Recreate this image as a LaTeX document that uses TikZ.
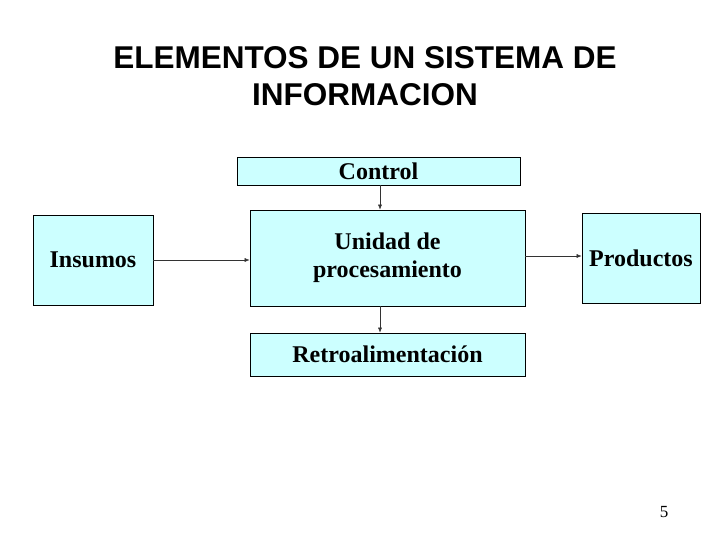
\documentclass[tikz,border=0pt]{standalone}
\usepackage{fontspec}
\setmainfont{Liberation Serif}
\newfontfamily\titlefont{Liberation Sans}
\usetikzlibrary{positioning,arrows.meta}
\definecolor{boxfill}{HTML}{CCFFFF}

\begin{document}
\begin{tikzpicture}[
	x=1pt, y=-1pt,
	box/.style={draw=black, fill=boxfill, thick, font=\fontsize{24}{28}\selectfont\bfseries, align=center, inner sep=0pt},
	pile/.style={->, >={Latex[length=5pt,width=4pt]}, thin, draw=black!80},
	every node/.style={color=black}
	]
	\useasboundingbox (0,0) rectangle (728,546);
	% title
	\node (title) [font=\titlefont\fontsize{31.5}{37}\selectfont\bfseries, align=center] at (365,76)
	{ELEMENTOS DE UN SISTEMA DE\\INFORMACION};
	% boxes
	\node (control) [box, minimum width=283pt, minimum height=28pt] at (378.5,171) {Control};
	\node (unidad) [box, minimum width=275pt, minimum height=96pt] at (387.5,258) {Unidad de\\procesamiento};
	\node (retro) [box, minimum width=275pt, minimum height=43pt] at (387.5,354.5) {Retroalimentación};
	\node (insumos) [box, minimum width=120pt, minimum height=90pt] at (93,260) {Insumos};
	\node (productos) [box, minimum width=118pt, minimum height=90pt] at (641,258) {Productos};
	% arrows
	\draw[pile] (control.south -| 380,0) -- (unidad.north -| 380,0);
	\draw[pile] (unidad.south -| 380,0) -- (retro.north -| 380,0);
	\draw[pile] (insumos.east |- 0,260) -- (unidad.west |- 0,260);
	\draw[pile] (unidad.east |- 0,256) -- (productos.west |- 0,256);
	% page number
	\node (page) [font=\fontsize{17}{20}\selectfont] at (664,512) {5};
\end{tikzpicture}
\end{document}
